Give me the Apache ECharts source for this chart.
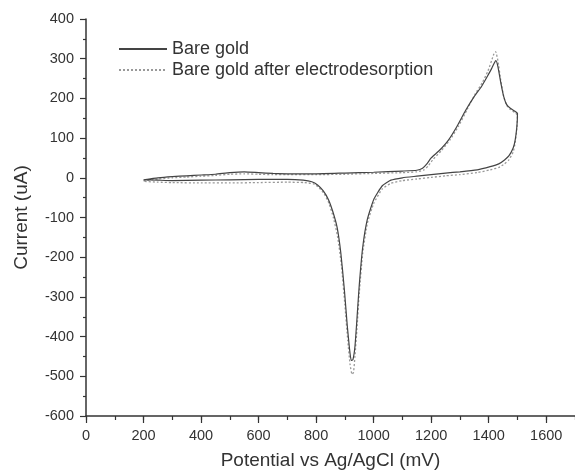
<!DOCTYPE html>
<html>
<head>
<meta charset="utf-8">
<script src="https://cdn.jsdelivr.net/npm/echarts@6/dist/echarts.min.js"></script>
<style>
html,body{margin:0;padding:0;background:#fff;}
#chart{width:575px;height:475px;}
</style>
</head>
<body>
<div id="chart"></div>
<script>
// Series names
const seriesNames = ['Bare gold', 'Bare gold after electrodesorption'];

// Bare gold (solid) — forward (anodic) then reverse (cathodic) scan
const bareX = [200, 250, 300, 350, 400, 450, 500, 550, 600, 650, 700, 800, 900, 1000, 1100, 1150, 1170, 1185, 1200, 1230, 1260, 1290, 1320, 1350, 1375, 1395, 1410, 1420, 1425, 1432, 1442, 1452, 1462, 1475, 1490, 1500,
  1498, 1492, 1485, 1470, 1455, 1435, 1405, 1360, 1300, 1250, 1200, 1150, 1100, 1060, 1030, 1000, 978, 962, 950, 942, 935, 928, 922, 916, 908, 898, 886, 873, 858, 843, 825, 805, 785, 755, 700, 600, 500, 400, 300, 250, 200];
const bareY = [-5, 0, 3, 5, 7, 9, 13, 15, 13, 11, 10, 10, 12, 14, 17, 19, 24, 35, 50, 70, 95, 130, 170, 205, 230, 255, 275, 290, 295, 280, 240, 205, 185, 175, 168, 162,
  130, 95, 75, 55, 45, 35, 28, 20, 15, 12, 8, 4, 0, -6, -20, -55, -105, -175, -270, -355, -425, -458, -460, -430, -370, -280, -190, -125, -85, -55, -33, -18, -10, -6, -4, -4, -5, -6, -7, -6, -5];

// Bare gold after electrodesorption (dotted)
const afterX = [200, 250, 300, 350, 400, 450, 500, 550, 600, 650, 700, 800, 900, 1000, 1100, 1150, 1175, 1190, 1205, 1235, 1265, 1295, 1325, 1352, 1378, 1398, 1410, 1418, 1424, 1432, 1442, 1452, 1462, 1475, 1490, 1500,
  1498, 1492, 1485, 1470, 1455, 1435, 1405, 1360, 1300, 1250, 1200, 1150, 1100, 1060, 1030, 1000, 978, 962, 950, 942, 935, 930, 925, 918, 910, 900, 888, 875, 860, 845, 828, 810, 790, 760, 700, 600, 500, 400, 300, 250, 200];
const afterY = [-8, -3, 0, 2, 4, 6, 9, 10, 9, 8, 8, 8, 9, 11, 13, 15, 20, 30, 45, 68, 95, 130, 172, 210, 240, 270, 295, 312, 318, 295, 245, 205, 183, 172, 165, 158,
  125, 88, 65, 45, 35, 26, 20, 13, 8, 5, 1, -3, -7, -14, -28, -65, -115, -190, -290, -380, -450, -490, -495, -470, -410, -320, -220, -150, -100, -65, -40, -25, -15, -12, -11, -12, -13, -13, -12, -11, -9];

// Axis ranges / ticks
const xMin = 0, xMax = 1700, xMajor = 200, xMinor = 100;
const yMin = -600, yMax = 400, yMajor = 100;
const xTitle = 'Potential vs Ag/AgCl (mV)';
const yTitle = 'Current (uA)';

const pairs = (xs, ys) => xs.map((x, i) => [x, ys[i]]);
const font = "'Liberation Sans', Arial, sans-serif";
const axisColor = '#333';
const plain = v => String(v);

const chart = echarts.init(document.getElementById('chart'), null, {renderer: 'canvas'});
chart.setOption({
  animation: false,
  backgroundColor: '#fff',
  grid: {left: 86, right: -3, top: 19, bottom: 57, containLabel: false},
  legend: {
    orient: 'vertical', left: 113, top: 35, itemGap: 3,
    itemWidth: 48, itemHeight: 14,
    itemStyle: {opacity: 0},
    textStyle: {fontFamily: font, fontSize: 18, color: '#333'},
    data: seriesNames
  },
  xAxis: [{
    type: 'value', min: xMin, max: xMax, interval: xMajor, position: 'bottom',
    name: xTitle, nameLocation: 'middle', nameGap: 35,
    nameTextStyle: {fontFamily: font, fontSize: 19, color: '#333'},
    axisLine: {show: true, onZero: false, lineStyle: {color: axisColor, width: 1.5}},
    axisTick: {show: true, inside: false, length: 7, lineStyle: {color: axisColor, width: 1.2}},
    axisLabel: {fontFamily: font, fontSize: 14.5, color: '#333', margin: 12, showMaxLabel: false, formatter: plain},
    splitLine: {show: false}
  }, {
    type: 'value', min: xMin, max: xMax, interval: xMinor, position: 'bottom', offset: 0,
    axisLine: {show: false, onZero: false},
    axisTick: {show: true, inside: false, length: 4, lineStyle: {color: axisColor, width: 1.2}},
    axisLabel: {show: false},
    splitLine: {show: false}
  }],
  yAxis: {
    type: 'value', min: yMin, max: yMax, interval: yMajor,
    name: yTitle, nameLocation: 'middle', nameGap: 55,
    nameTextStyle: {fontFamily: font, fontSize: 19, color: '#333'},
    axisLine: {show: true, onZero: false, lineStyle: {color: axisColor, width: 1.5}},
    axisTick: {show: true, inside: false, length: 6, lineStyle: {color: axisColor, width: 1.2}},
    minorTick: {show: true, splitNumber: 2, length: 3, lineStyle: {color: axisColor, width: 1.2}},
    axisLabel: {fontFamily: font, fontSize: 14.5, color: '#333', margin: 12, formatter: plain},
    splitLine: {show: false}
  },
  series: [{
    name: seriesNames[0], type: 'line', xAxisIndex: 0,
    data: pairs(bareX, bareY), symbol: 'none', showSymbol: false, smooth: 0.15,
    lineStyle: {color: '#444', width: 1.2, type: 'solid'},
    itemStyle: {color: '#444'},
    z: 3
  }, {
    name: seriesNames[1], type: 'line', xAxisIndex: 0,
    data: pairs(afterX, afterY), symbol: 'none', showSymbol: false, smooth: 0.15,
    lineStyle: {color: '#999', width: 1.3, type: [2, 2]},
    itemStyle: {color: '#999'},
    z: 2
  }]
});
</script>
</body>
</html>
